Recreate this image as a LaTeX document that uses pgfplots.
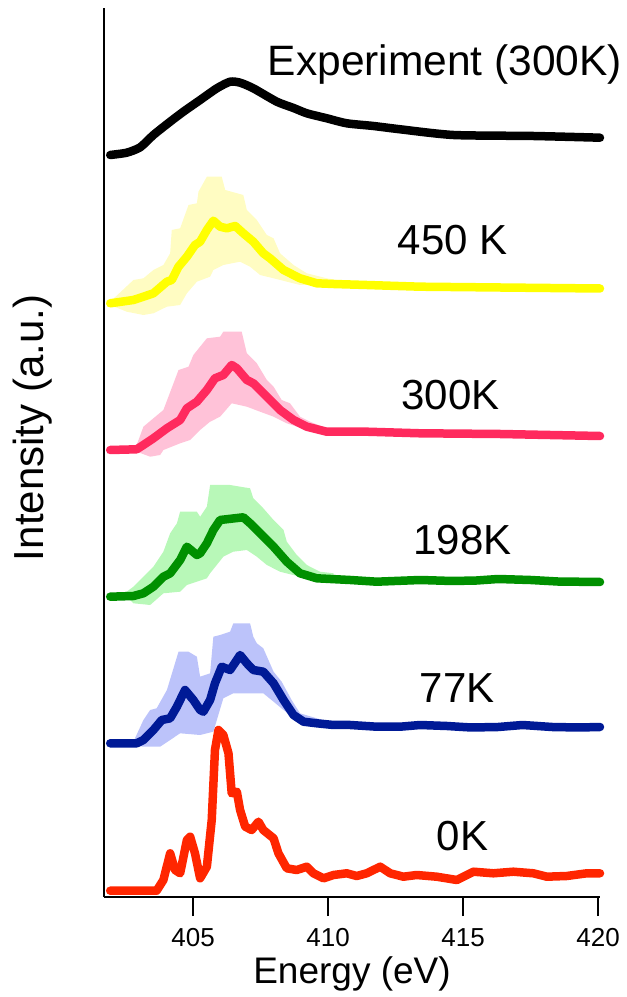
\documentclass[border=0pt]{standalone}
\usepackage{fontspec}
\setmainfont{Liberation Sans}
\usepackage{pgfplots}
\pgfplotsset{compat=1.18}
\definecolor{yline}{HTML}{FFFF00}
\definecolor{yband}{HTML}{FFFCC2}
\definecolor{pline}{HTML}{FF2A5E}
\definecolor{pband}{HTML}{FFC2D8}
\definecolor{gline}{HTML}{009000}
\definecolor{gband}{HTML}{B8F8B8}
\definecolor{bline}{HTML}{001A96}
\definecolor{bband}{HTML}{BCC3FA}
\definecolor{rline}{HTML}{FF2600}
\begin{document}
\begin{tikzpicture}
\useasboundingbox (0,0) rectangle (627pt,997pt);
\begin{axis}[
  at={(104pt,100pt)}, anchor=south west,
  scale only axis, width=496pt, height=889pt,
  xmin=401.7, xmax=420.07, ymin=0, ymax=889,
  axis lines=left,
  axis line style={-, line width=2pt},
  xtick={405,410,415,420}, ytick=\empty,
  tick align=outside, major tick length=19pt,
  every tick/.style={black, line width=2pt},
  /pgf/number format/assume math mode=true,
  xticklabel style={font=\fontsize{26}{30}\selectfont, inner sep=0pt, anchor=north, yshift=-12pt},
  xlabel={Energy (eV)}, ylabel={Intensity (a.u.)},
  every axis x label/.style={at={(axis description cs:0.5,-0.086)}, anchor=center, font=\fontsize{37}{44}\selectfont},
  every axis y label/.style={at={(axis description cs:-0.143,0.5276)}, anchor=center, rotate=90, font=\fontsize{42}{50}\selectfont},
  clip=false,
  every axis plot/.append style={line join=round, line cap=round},
]
% ---- bands ----
\addplot[fill=yband, draw=none] coordinates {
(401.93,595.3) (402.79,617) (403.16,618.7) (403.53,627) (403.90,632) (404.15,643.7) (404.21,667) (404.52,668.7) (404.83,692) (405.14,693.7) (405.20,705.3) (405.51,720.3) (406.06,720.3) (406.19,707) (406.86,702) (406.99,687) (407.36,677) (407.73,662) (407.98,658.7) (408.22,643.7) (408.72,632) (409.21,623.7) (409.95,618.7) (410.69,615.3)
(410.69,612) (408.96,612) (407.98,618.7) (407.48,622) (407.11,630.3) (406.74,635.3) (406.12,632) (405.75,627) (405.63,620.3) (405.14,615.3) (404.77,603.7) (404.52,592) (404.03,590.3) (403.53,583.7) (403.16,582) (402.54,585.3) (401.93,592)
} -- cycle;
\addplot[fill=pband, draw=none] coordinates {
(401.93,448.7) (402.91,452) (403.16,470.3) (403.53,478.7) (403.90,487) (404.46,527) (404.83,530.3) (405.01,542) (405.51,558.7) (406.00,560.3) (406.12,565.3) (406.80,565.3) (406.99,543.7) (407.36,533.7) (407.73,517) (407.98,510.3) (408.28,497) (408.59,493.7) (408.96,480.3) (409.33,475.3) (409.95,468.7)
(409.95,463.7) (409.21,467) (408.47,473.7) (407.98,480.3) (407.48,485.3) (406.99,490.3) (406.43,493.7) (406.00,480.3) (405.63,475.3) (405.26,467) (404.89,457) (404.52,453.7) (403.90,447) (403.78,442) (403.41,440.3) (402.91,445.3) (401.93,445.3)
} -- cycle;
\addplot[fill=gband, draw=none] coordinates {
(401.93,301) (402.54,305.3) (402.79,310.3) (403.16,320.3) (403.53,330.3) (403.90,345.3) (404.15,363.7) (404.40,373.7) (404.52,385.3) (405.14,385.3) (405.26,380.3) (405.51,390.3) (405.63,412) (406.37,412) (407.11,408.7) (407.23,398.7) (407.60,388.7) (407.98,377) (408.35,367) (408.47,355.3) (408.84,342) (409.21,332) (409.70,325.3) (410.20,323.7)
(410.20,315) (409.70,317) (408.96,320.3) (408.22,325.3) (407.73,332) (407.36,340.3) (406.99,347) (406.49,345.3) (406.12,340.3) (405.63,323.7) (405.51,318.7) (404.77,312) (404.52,305.3) (403.90,303.7) (403.41,292) (402.79,293.7) (402.54,300.3) (401.93,299.5)
} -- cycle;
\addplot[fill=bband, draw=none] coordinates {
(401.93,154.5) (402.79,155.3) (403.16,177) (403.41,187) (403.65,188.7) (404.03,207) (404.46,245.3) (404.83,245.3) (405.14,240.3) (405.26,220.3) (405.63,223.7) (405.75,260.3) (406.00,262) (406.37,265.3) (406.49,273.7) (407.11,273.7) (407.23,260.3) (407.36,253.7) (407.60,248.7) (407.98,225.3) (408.28,215.3) (408.65,197) (408.96,183.7) (409.58,178.7) (410.20,173.7)
(410.20,170.3) (409.58,172) (408.84,177) (408.35,187) (407.98,195.3) (407.60,203.7) (406.49,203.7) (406.12,198.7) (405.75,165.3) (405.26,162) (404.52,163.7) (404.15,157) (403.78,150.3) (403.16,150.3) (402.79,152) (401.93,153)
} -- cycle;
% ---- lines ----
\addplot[black, line width=8.5pt, smooth, tension=0.4] coordinates {
(401.93,742) (402.54,744.3) (403.04,749.7) (403.53,762) (404.15,775.3) (404.64,785.3) (405.26,797) (405.88,808.7) (406.37,815.3) (406.74,814.3) (407.23,808.7) (408.10,795.3) (408.72,789) (409.21,783.7) (409.95,778.7) (410.69,773.7) (411.68,771) (412.67,767.7) (414.64,762) (417.60,761) (420.07,759.3)
};
\addplot[yline, line width=8.5pt] coordinates {
(401.93,593.7) (402.79,597) (403.16,600.3) (403.53,603.7) (404.03,615.3) (404.21,617) (404.46,630.3) (404.77,640.3) (405.07,652) (405.26,655.3) (405.51,667) (405.75,676.3) (406.00,670.3) (406.25,668.7) (406.56,671) (406.86,663.7) (407.23,655.3) (407.60,643.7) (407.85,638.7) (408.35,627) (408.96,618.7) (409.58,613.7) (410.20,613) (411.43,612) (413.41,610.3) (416.37,609.5) (420.07,608.5)
};
\addplot[pline, line width=8.5pt] coordinates {
(401.93,447) (402.91,447.7) (403.16,452) (403.53,458.7) (404.03,468.7) (404.52,477) (404.77,488.7) (405.14,495.3) (405.51,507) (405.81,518.7) (406.12,522) (406.43,532) (406.62,528.7) (406.99,517) (407.23,513.7) (407.73,500.3) (408.22,487) (408.72,477) (409.21,470.3) (409.95,465.3) (411.43,465.3) (413.41,463.7) (416.37,463) (420.07,461)
};
\addplot[gline, line width=8.5pt] coordinates {
(401.93,300.3) (402.79,301) (403.16,303.7) (403.53,310.3) (403.90,320.3) (404.15,323.7) (404.52,337) (404.77,350.3) (405.14,342) (405.26,343.7) (405.51,353.7) (405.75,367) (406.00,377) (406.86,379.7) (407.11,373.7) (407.48,363.7) (407.98,350.3) (408.47,335.3) (408.96,323.7) (409.58,318.7) (410.82,317) (411.80,315.3) (413.41,317) (414.6,316) (415.5,316.5) (416.3,318) (417.5,317) (418.5,315.5) (420.07,315)
};
\addplot[bline, line width=8.5pt] coordinates {
(401.93,153.7) (402.91,153.7) (403.16,157) (403.53,167) (403.84,177) (404.15,178.7) (404.40,190.3) (404.70,207) (405.01,197) (405.26,187) (405.38,185.3) (405.63,197) (405.81,213.7) (406.06,230.3) (406.37,227) (406.62,237) (406.74,242) (406.99,233.7) (407.23,227) (407.60,225.3) (407.98,213.7) (408.35,197) (408.72,182) (409.09,175.3) (409.58,173.7) (410.20,172) (410.82,172) (411.80,170.3) (412.67,170.3) (413.41,172) (414.4,171) (415.3,169.5) (416.3,170) (417.2,172) (418.3,170) (419.3,169.5) (420.07,170)
};
\addplot[rline, line width=8.5pt] coordinates {
(401.93,6.3) (403.65,6.3) (403.90,17) (404.15,43.7) (404.33,27) (404.52,23.7) (404.77,57) (404.89,60.3) (405.07,43.7) (405.26,18.7) (405.51,30.3) (405.69,77) (405.81,147) (405.94,167) (406.12,162) (406.31,143.7) (406.43,103.7) (406.62,105.3) (406.74,87) (406.93,70.3) (407.17,67) (407.42,75.3) (407.60,67) (407.98,58.7) (408.16,43.7) (408.47,28.7) (408.84,27) (409.21,30.3) (409.46,23.7) (409.83,18.7) (410.20,22) (410.69,23.7) (411.06,21) (411.43,23.7) (411.93,30.3) (412.30,23.7) (412.79,20.3) (413.28,22) (414.02,20.3) (414.77,17) (415.38,25.3) (416.12,23.7) (416.86,25.3) (417.60,23.7) (418.10,20.3) (418.84,21) (419.58,23.7) (420.07,23.7)
};
% ---- labels ----
\node[anchor=base, font=\fontsize{42.5}{50}\selectfont] at (axis cs:414.33,821) {Experiment (300K)};
\node[anchor=base, font=\fontsize{42}{50}\selectfont] at (axis cs:414.61,642) {450 K};
\node[anchor=base, font=\fontsize{42}{50}\selectfont] at (axis cs:414.54,487) {300K};
\node[anchor=base, font=\fontsize{42}{50}\selectfont] at (axis cs:414.98,342) {198K};
\node[anchor=base, font=\fontsize{42}{50}\selectfont] at (axis cs:414.78,194) {77K};
\node[anchor=base, font=\fontsize{42}{50}\selectfont] at (axis cs:414.98,47) {0K};
\end{axis}
\end{tikzpicture}
\end{document}
